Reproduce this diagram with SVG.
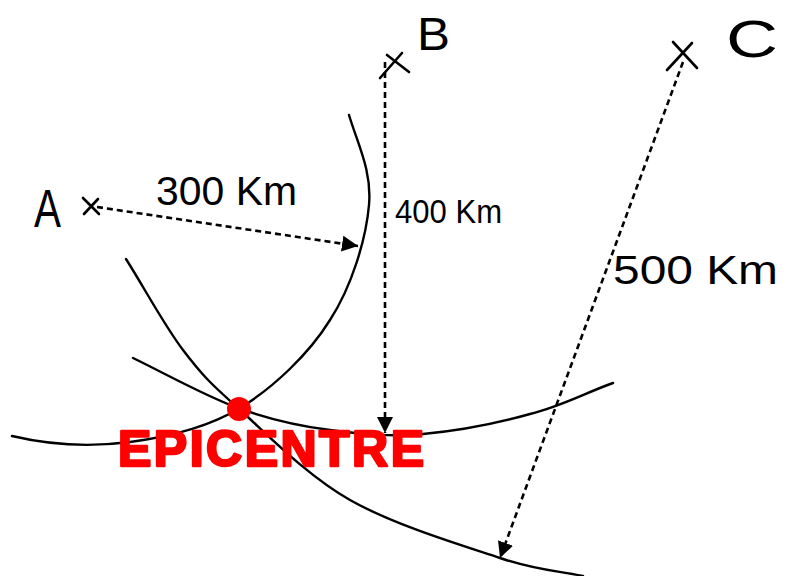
<svg xmlns="http://www.w3.org/2000/svg" width="787" height="576" viewBox="0 0 787 576">
<defs>
<style>
.arc{fill:none;stroke:#000;stroke-width:2.4;stroke-linecap:round}
.dash{fill:none;stroke:#000;stroke-width:2.6;stroke-dasharray:6 4}
.cross{fill:none;stroke:#000;stroke-width:2.6;stroke-linecap:round}
.lbl{font-family:"Liberation Sans","DejaVu Sans",sans-serif;fill:#000}
.epi{font-family:"Liberation Sans","DejaVu Sans",sans-serif;font-weight:bold;fill:#f00;stroke:#f00;stroke-width:2.5;stroke-linejoin:round}
</style>
<marker id="ah" viewBox="0 0 16 16" refX="16" refY="8" markerWidth="16" markerHeight="16" orient="auto" markerUnits="userSpaceOnUse">
<path d="M0,0 L16,8 L0,16 z" fill="#000"/>
</marker>
</defs>
<rect width="787" height="576" fill="#fff"/>

<g id="circles">
<path id="arcA" class="arc" d="M349,115 C358,145 372,171 369,205 C366,239 352,286 330,320 C309,354 273,388 240,408 C207,428 168,437 130,442 C92,447 50,445 12,436"/>
<path id="arcB" class="arc" d="M133,358 C168,375 205,396 238,408 C271,420 299,426 330,430 C361,434 390,437 423,434 C456,431 498,423 530,414 C562,406 585,393 613,383"/>
<path id="arcC" class="arc" d="M126,259 C145,289 164,325 183,350 C202,375 210,383 238,408 C266,433 306,475 350,500 C394,525 461,545 500,558 C539,571 555,570 583,576"/>
</g>

<g id="connectors">
<line class="dash" x1="97" y1="207" x2="358" y2="246" marker-end="url(#ah)"/>
<line class="dash" x1="385" y1="62" x2="385" y2="433" marker-end="url(#ah)"/>
<line class="dash" x1="683" y1="62" x2="500" y2="558" marker-end="url(#ah)"/>
</g>

<g id="stationA">
<path class="cross" d="M83,198 L99,214 M84,214 L98,199"/>
<text class="lbl" x="34" y="227" font-size="54" textLength="27" lengthAdjust="spacingAndGlyphs">A</text>
</g>
<g id="stationB">
<path class="cross" d="M380,78 L402,53 M387,55 L409,72"/>
<text class="lbl" x="417" y="50" font-size="46" textLength="33" lengthAdjust="spacingAndGlyphs">B</text>
</g>
<g id="stationC">
<path class="cross" d="M667,70 L692,43 M673,42 L697,68"/>
<text class="lbl" x="726" y="57" font-size="52" textLength="52" lengthAdjust="spacingAndGlyphs">C</text>
</g>

<g id="labels">
<text class="lbl" x="156" y="205" font-size="40" textLength="141" lengthAdjust="spacingAndGlyphs">300 Km</text>
<text class="lbl" x="395" y="223" font-size="33" textLength="107" lengthAdjust="spacingAndGlyphs">400 Km</text>
<text class="lbl" x="613" y="284" font-size="40" textLength="165" lengthAdjust="spacingAndGlyphs">500 Km</text>
</g>

<g id="epicentre">
<circle cx="239" cy="409" r="12" fill="#f00"/>
<text class="epi" x="118" y="466" font-size="50" textLength="306" lengthAdjust="spacing">EPICENTRE</text>
</g>
</svg>
